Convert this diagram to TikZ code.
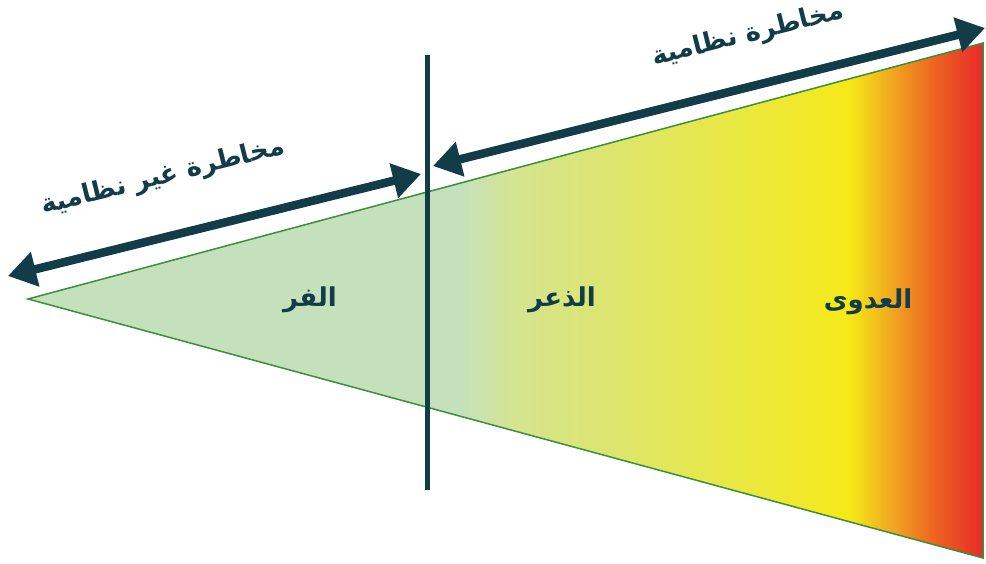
\documentclass[tikz,border=0pt]{standalone}
\usepackage{fontspec}
\usetikzlibrary{arrows.meta}
\TeXXeTstate=1
\newfontfamily\arabicfont[Script=Arabic]{DejaVu Sans}
\definecolor{darkteal}{HTML}{113C48}
\definecolor{edgegreen}{HTML}{3A8F3A}
\definecolor{rgreen}{HTML}{C4E1BC}
\definecolor{rlime}{HTML}{D5E48F}
\definecolor{rpale}{HTML}{E0E660}
\definecolor{rlemon}{HTML}{EBE83A}
\definecolor{ryellow}{HTML}{F5E918}
\definecolor{rorange}{HTML}{F0A520}
\definecolor{rblood}{HTML}{EE6220}
\definecolor{rred}{HTML}{E52A2A}
% 25bp = tip of the wedge, 75bp = its right edge
\pgfdeclarehorizontalshading{riskshade}{100bp}{color(0bp)=(rgreen); color(47.6bp)=(rgreen);
  color(50.6bp)=(rlime); color(57.5bp)=(rpale); color(63.2bp)=(rlemon);
  color(68.0bp)=(ryellow); color(70.3bp)=(rorange); color(72.5bp)=(rblood);
  color(75bp)=(rred); color(100bp)=(rred)}

\begin{document}
\begin{tikzpicture}[x=1pt,y=-1pt,
  lbl/.style={font=\arabicfont\bfseries\fontsize{26}{30}\selectfont, text=darkteal},
  bigarrow/.style={darkteal, line width=8.5pt, {Triangle[length=28pt,width=34pt]}-{Triangle[length=28pt,width=34pt]}}]
\useasboundingbox (0,0) rectangle (986,563);
% wedge
\coordinate (tip) at (28,299);
\coordinate (top) at (983,43);
\coordinate (bot) at (983,558);
\shade[shading=riskshade, draw=edgegreen, line width=1.5pt] (tip) -- (top) -- (bot) -- cycle;
% divider
\coordinate (divtop) at (427,55);
\coordinate (divbot) at (427,490);
\draw[darkteal, line width=5pt] (divtop) -- (divbot);
% arrows
\coordinate (la) at (8,276);
\coordinate (lb) at (421,174);
\coordinate (ra) at (433,166);
\coordinate (rb) at (985,28);
\draw[bigarrow] (la) -- (lb);
\draw[bigarrow] (ra) -- (rb);
\node[lbl, rotate=14] (unsys) at (163,177) {\beginR مخاطرة غير نظامية\endR};
\node[lbl, rotate=14] (sys) at (748,35) {\beginR مخاطرة نظامية\endR};
% stages
\node[lbl] (flight) at (310,300) {\beginR الفر\endR};
\node[lbl] (panic) at (562,300) {\beginR الذعر\endR};
\node[lbl] (contagion) at (868,302) {\beginR العدوى\endR};
\end{tikzpicture}
\end{document}
